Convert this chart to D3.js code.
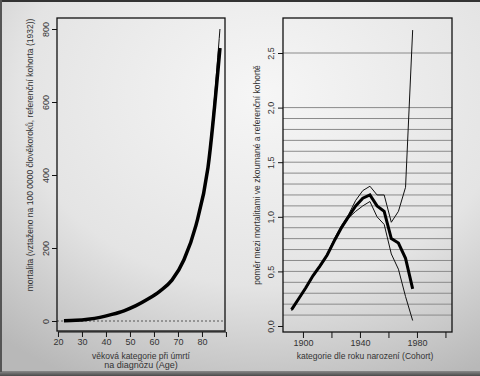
<!DOCTYPE html>
<html lang="cs">
<head>
  <meta charset="utf-8">
  <title>Mortalita – věk a kohorta</title>
  <script src="https://cdn.jsdelivr.net/npm/d3@7/dist/d3.min.js"></script>
  <style>
    body { margin: 0; background: #ccc; overflow: hidden; }
    svg { display: block; font-family: "Liberation Sans", Arial, sans-serif; }
    .tick text { fill: #333; font-size: 9px; }
    .title { fill: #333; font-size: 8.5px; }
  </style>
</head>
<body>
<div id="chart"></div>
<script>
// levý graf – mortalita podle věku
const ages = [22.5, 27.5, 32.5, 37.5, 42.5, 47.5, 52.5, 57.5, 62.5, 67.5, 72.5, 77.5, 82.5, 87.5];
const ageThick = [1, 2, 5, 10, 18, 28, 42, 60, 82, 112, 168, 262, 420, 748];
const ageThin = [1, 2, 5, 10, 18, 28, 42, 60, 82, 112, 168, 265, 430, 800];
const ageTicks = [20, 30, 40, 50, 60, 70, 80, 90];
const ageLabels = [20, 30, 40, 50, 60, 70, 80];
const mortTicks = [0, 200, 400, 600, 800];

// pravý graf – poměr podle kohorty
const cohorts = [1892, 1897, 1902, 1907, 1912, 1917, 1922, 1927, 1932, 1937, 1942, 1947, 1952, 1957, 1962, 1967, 1972, 1977];
const ratioThick = [0.15, 0.25, 0.35, 0.46, 0.55, 0.65, 0.78, 0.9, 1.0, 1.1, 1.17, 1.2, 1.1, 1.05, 0.8, 0.76, 0.62, 0.34];
const ratioHigh = [0.15, 0.25, 0.35, 0.46, 0.55, 0.66, 0.8, 0.92, 1.02, 1.15, 1.24, 1.28, 1.2, 1.2, 0.95, 1.05, 1.27, 2.71];
const ratioLow = [0.14, 0.24, 0.34, 0.45, 0.54, 0.64, 0.77, 0.89, 0.99, 1.05, 1.1, 1.14, 1.0, 0.93, 0.66, 0.52, 0.27, 0.05];
const cohortTicks = [1900, 1920, 1940, 1960, 1980, 2000];
const cohortLabels = [1900, 1940, 1980];
const ratioTicks = [0, 0.5, 1.0, 1.5, 2.0, 2.5];
const gridLevels = [0.1, 0.2, 0.3, 0.4, 0.5, 0.6, 0.7, 0.8, 0.9, 1.0, 1.1, 1.2, 1.3, 1.4, 1.5, 1.6, 1.7, 1.8, 1.9, 2.0, 2.5];

const W = 480, H = 376;
const svg = d3.select("#chart").append("svg").attr("width", W).attr("height", H);

// pozadí (fotka slajdu)
const defs = svg.append("defs");
const rg = defs.append("radialGradient").attr("id", "bg")
  .attr("cx", "55%").attr("cy", "25%").attr("r", "85%");
rg.append("stop").attr("offset", "0%").attr("stop-color", "#f6f6f6");
rg.append("stop").attr("offset", "60%").attr("stop-color", "#e4e4e4");
rg.append("stop").attr("offset", "100%").attr("stop-color", "#b8b8b8");
svg.append("rect").attr("width", W).attr("height", H).attr("fill", "url(#bg)");
const bg2 = defs.append("linearGradient").attr("id", "bottom").attr("x1", 0).attr("y1", 0).attr("x2", 0).attr("y2", 1);
bg2.append("stop").attr("offset", "0%").attr("stop-color", "#8a8a8a");
bg2.append("stop").attr("offset", "100%").attr("stop-color", "#4a4a4a");
svg.append("rect").attr("x", 0).attr("y", 371).attr("width", W).attr("height", 5).attr("fill", "url(#bottom)");
svg.append("rect").attr("x", 0).attr("y", 0).attr("width", W).attr("height", 2).attr("fill", "#333");
svg.append("rect").attr("x", 0).attr("y", 0).attr("width", 2).attr("height", 372).attr("fill", "#555");

// ---------- levý graf ----------
const L = { left: 57, right: 225, top: 18, bottom: 331 };
const xA = d3.scaleLinear().domain([19.6, 89.6]).range([L.left, L.right]);
const yA = d3.scaleLinear().domain([0, 800]).range([321, 29]);

const gL = svg.append("g");
gL.append("line").attr("x1", L.left).attr("x2", L.right).attr("y1", yA(0)).attr("y2", yA(0))
  .attr("stroke", "#555").attr("stroke-width", 1).attr("stroke-dasharray", "2,2");

const lineA = d3.line().x((d, i) => xA(ages[i])).y(d => yA(d)).curve(d3.curveMonotoneX);
gL.append("path").datum(ageThin).attr("d", lineA).attr("fill", "none").attr("stroke", "#111").attr("stroke-width", 1);
gL.append("path").datum(ageThick).attr("d", lineA).attr("fill", "none").attr("stroke", "#000").attr("stroke-width", 3.5);

gL.append("rect").attr("x", L.left).attr("y", L.top).attr("width", L.right - L.left).attr("height", L.bottom - L.top)
  .attr("fill", "none").attr("stroke", "#111").attr("stroke-width", 1.3);

const axA = gL.append("g").attr("transform", `translate(0,${L.bottom + 1})`)
  .call(d3.axisBottom(xA).tickValues(ageTicks).tickSize(5).tickFormat(d => ageLabels.includes(d) ? d : ""));
axA.select(".domain").attr("d", `M${xA(20)},0H${xA(90)}`).attr("stroke", "#111");
axA.selectAll(".tick line").attr("stroke", "#111");
axA.selectAll(".tick text").attr("y", 7);

const ayA = gL.append("g").attr("transform", `translate(${L.left},0)`)
  .call(d3.axisLeft(yA).tickValues(mortTicks).tickSize(5));
ayA.select(".domain").remove();
ayA.selectAll(".tick line").attr("stroke", "#111");
ayA.selectAll(".tick text").attr("x", 0).attr("dy", 0).attr("text-anchor", "middle")
  .attr("transform", "translate(-8,0) rotate(-90)");

gL.append("text").attr("class", "title").attr("text-anchor", "middle")
  .attr("transform", "translate(33,155) rotate(-90)")
  .text("mortalita (vztaženo na 100 0000 člověkoroků, referenční kohorta (1932))");
gL.append("text").attr("class", "title").attr("x", 141).attr("y", 359).attr("text-anchor", "middle")
  .text("věková kategorie při úmrtí");
gL.append("text").attr("class", "title").attr("x", 141).attr("y", 368).attr("text-anchor", "middle")
  .style("font-size", "9px").text("na diagnózu (Age)");

// ---------- pravý graf ----------
const R = { left: 283, right: 452, top: 18, bottom: 332 };
const xB = d3.scaleLinear().domain([1886, 2004.6]).range([R.left, R.right]);
const yB = d3.scaleLinear().domain([0, 2.5]).range([326, 53]);

const gR = svg.append("g");
gR.selectAll("line.grid").data(gridLevels).enter().append("line").attr("class", "grid")
  .attr("x1", R.left).attr("x2", R.right).attr("y1", d => yB(d)).attr("y2", d => yB(d))
  .attr("stroke", "#8a8a8a").attr("stroke-width", 1);

const lineB = d3.line().x((d, i) => xB(cohorts[i])).y(d => yB(d));
gR.append("path").datum(ratioHigh).attr("d", lineB).attr("fill", "none").attr("stroke", "#111").attr("stroke-width", 1);
gR.append("path").datum(ratioLow).attr("d", lineB).attr("fill", "none").attr("stroke", "#111").attr("stroke-width", 1);
gR.append("path").datum(ratioThick).attr("d", lineB).attr("fill", "none").attr("stroke", "#000").attr("stroke-width", 3);

gR.append("rect").attr("x", R.left).attr("y", R.top).attr("width", R.right - R.left).attr("height", R.bottom - R.top)
  .attr("fill", "none").attr("stroke", "#111").attr("stroke-width", 1.3);

const axB = gR.append("g").attr("transform", `translate(0,${R.bottom})`)
  .call(d3.axisBottom(xB).tickValues(cohortTicks).tickSize(6).tickFormat(d => cohortLabels.includes(d) ? d : ""));
axB.select(".domain").remove();
axB.selectAll(".tick line").attr("stroke", "#111");
axB.selectAll(".tick text").attr("y", 8);

const ayB = gR.append("g").attr("transform", `translate(${R.left},0)`)
  .call(d3.axisLeft(yB).tickValues(ratioTicks).tickSize(5).tickFormat(d3.format(".1f")));
ayB.select(".domain").remove();
ayB.selectAll(".tick line").attr("stroke", "#111");
ayB.selectAll(".tick text").attr("x", 0).attr("dy", 0).attr("text-anchor", "middle")
  .attr("transform", "translate(-9,0) rotate(-90)")
  .text(d => d3.format(".1f")(d).replace(".", ","));

gR.append("text").attr("class", "title").attr("text-anchor", "middle")
  .attr("transform", "translate(260,175) rotate(-90)")
  .text("poměr mezi mortalitami ve zkoumané a referenční kohortě");
gR.append("text").attr("class", "title").attr("x", 365).attr("y", 359).attr("text-anchor", "middle")
  .text("kategorie dle roku narození (Cohort)");
</script>
</body>
</html>
